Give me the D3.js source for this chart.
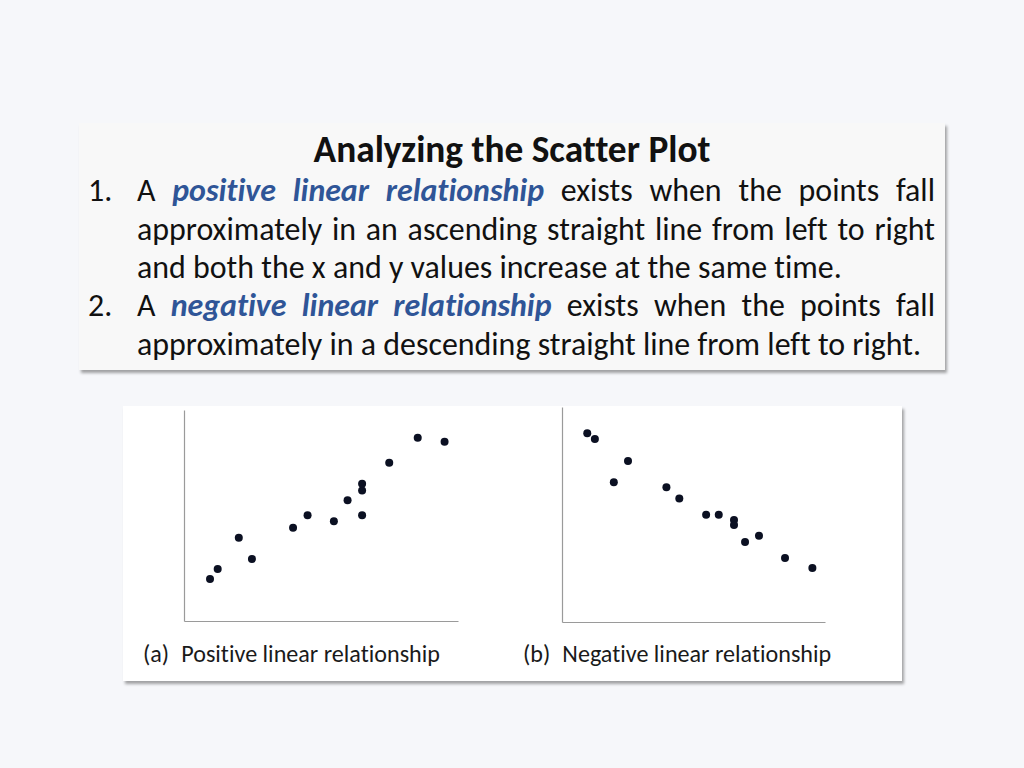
<!DOCTYPE html>
<html><head><meta charset="utf-8">
<script src="https://cdn.jsdelivr.net/npm/d3@7"></script>
<style>
html,body{margin:0;padding:0;background:#f6f7fa;}
svg{display:block;}
text{font-variant-ligatures:none;font-feature-settings:"liga" 0,"clig" 0;}
</style></head>
<body>
<svg id="c" width="1024" height="768"></svg>
<script>
// ---- data ----
const titleText = "Analyzing the Scatter Plot";
const bodyLines = [
  {num:"1.", justify:true, segs:[["A","n"],["positive linear relationship","b"],["exists when the points fall","n"]]},
  {num:"", justify:true, segs:[["approximately in an ascending straight line from left to right","n"]]},
  {num:"", justify:false, segs:[["and both the x and y values increase at the same time.","n"]]},
  {num:"2.", justify:true, segs:[["A","n"],["negative linear relationship","b"],["exists when the points fall","n"]]},
  {num:"", justify:false, segs:[["approximately in a descending straight line from left to right.","n"]]}
];
const posX = [0.95,1.23,2.0,2.48,3.98,4.51,5.47,5.97,6.5,6.5,6.5,7.49,8.53,9.51];
const posY = [1.99,2.46,3.95,2.94,4.42,5.01,4.73,5.72,5.01,6.18,6.51,7.5,8.69,8.5];
const negX = [0.96,1.25,1.97,2.51,3.97,4.46,5.48,5.96,6.54,6.54,6.96,7.49,8.48,9.52];
const negY = [8.78,8.51,6.5,7.49,6.27,5.75,4.99,4.99,4.74,4.51,3.72,4.01,2.98,2.51];
const captions = ["(a)\u2002Positive linear relationship","(b)\u2002Negative linear relationship"];

const FONT = "Carlito, Calibri, Lato, 'Open Sans', sans-serif";
const svg = d3.select("#c");

const defs = svg.append("defs");
const f = defs.append("filter").attr("id","sh").attr("x","-5%").attr("y","-5%").attr("width","112%").attr("height","115%");
f.append("feDropShadow").attr("dx",2).attr("dy",3).attr("stdDeviation",1.6).attr("flood-color","#000").attr("flood-opacity",0.35);

// ---- text box ----
svg.append("rect").attr("x",79).attr("y",123).attr("width",866).attr("height",247)
  .attr("fill","#f8f8f8").attr("filter","url(#sh)");

function measure(txt, size, weight, style){
  const t = svg.append("text").attr("font-family",FONT).attr("font-size",size)
    .attr("font-weight",weight).attr("font-style",style).text(txt);
  const w = t.node().getComputedTextLength(); t.remove(); return w;
}
// fit font sizes to reference widths
let tSize = 30;
tSize = tSize * 397 / measure(titleText, tSize, "bold", "normal");
let bSize = 27;
bSize = bSize * 705 / measure("and both the x and y values increase at the same time.", bSize, "normal", "normal");

svg.append("text").attr("x",512).attr("y",162).attr("text-anchor","middle")
  .attr("font-family",FONT).attr("font-size",tSize).attr("font-weight","bold").attr("fill","#111")
  .text(titleText);

const baselines = [200.5,239.5,277.5,315.5,354.5];
const left = 137, right = 935;
bodyLines.forEach((ln,i)=>{
  const y = baselines[i];
  if(ln.num) svg.append("text").attr("x",88).attr("y",y).attr("font-family",FONT)
    .attr("font-size",bSize).attr("fill","#111").text(ln.num);
  const words = [];
  ln.segs.forEach(s=>s[0].split(" ").forEach(w=>words.push({w, b:s[1]==="b"})));
  words.forEach(o=>{ o.len = measure(o.w,bSize,o.b?"bold":"normal",o.b?"italic":"normal"); });
  const sum = d3.sum(words,o=>o.len);
  const sp = measure("a b",bSize,"normal","normal") - measure("ab",bSize,"normal","normal");
  const gap = ln.justify ? (right-left-sum)/(words.length-1) : sp;
  let x = left;
  words.forEach(o=>{
    svg.append("text").attr("x",x).attr("y",y).attr("font-family",FONT).attr("font-size",bSize)
      .attr("font-weight",o.b?"bold":"normal").attr("font-style",o.b?"italic":"normal")
      .attr("fill",o.b?"#2f5597":"#111").text(o.w);
    x += o.len + gap;
  });
});

// ---- scatter panel ----
svg.append("rect").attr("x",123).attr("y",406).attr("width",779).attr("height",275)
  .attr("fill","#ffffff").attr("filter","url(#sh)");

const panels = [
  {xs:posX, ys:posY, x0:184, x1:458, y0:621, y1:410, cap:captions[0], capX:143},
  {xs:negX, ys:negY, x0:562, x1:825, y0:622, y1:407, cap:captions[1], capX:523}
];
const cSize = 21 * 297 / measure(captions[0],21,"normal","normal");
panels.forEach(p=>{
  const x = d3.scaleLinear().domain([0,10]).range([p.x0,p.x1]);
  const y = d3.scaleLinear().domain([0,10]).range([p.y0,p.y1]);
  const g = svg.append("g");
  g.append("g").attr("transform",`translate(0,${p.y0})`)
    .call(d3.axisBottom(x).tickValues([]).tickSizeOuter(0))
    .call(a=>a.select(".domain").attr("stroke","#9a9a9a").attr("stroke-width",1.2));
  g.append("g").attr("transform",`translate(${p.x0},0)`)
    .call(d3.axisLeft(y).tickValues([]).tickSizeOuter(0))
    .call(a=>a.select(".domain").attr("stroke","#9a9a9a").attr("stroke-width",1.2));
  g.selectAll("circle").data(p.xs.map((v,i)=>[v,p.ys[i]])).join("circle")
    .attr("cx",d=>x(d[0])).attr("cy",d=>y(d[1])).attr("r",4).attr("fill","#0b1022");
  svg.append("text").attr("x",p.capX).attr("y",662).attr("font-family",FONT)
    .attr("font-size",cSize).attr("fill","#1a1a1a").text(p.cap);
});
</script>
</body></html>
